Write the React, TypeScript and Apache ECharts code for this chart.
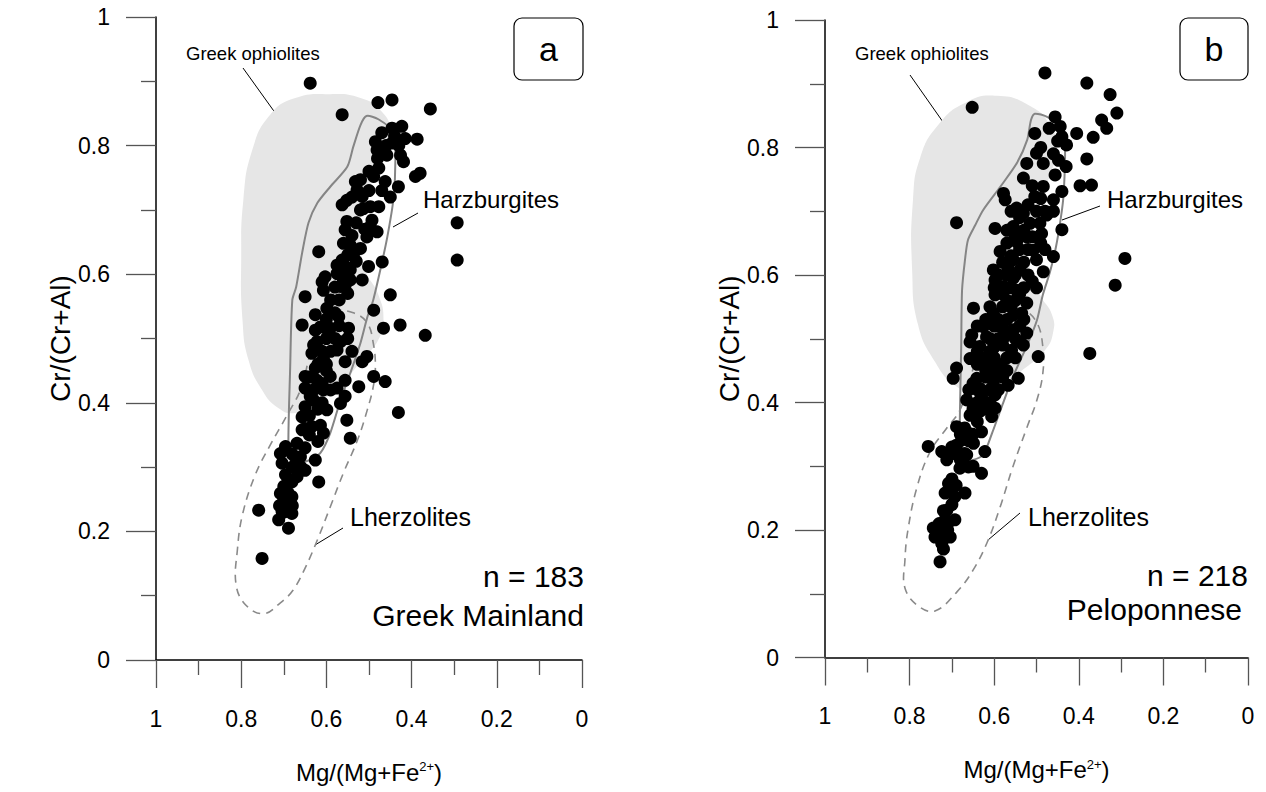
import { useEffect, useRef } from "react";
import * as echarts from "echarts";

// ---------- DATA ----------
// Panel a: Greek Mainland, [Mg/(Mg+Fe2+), Cr/(Cr+Al)]
const mainlandPts: [number, number][] = [
  [0.638,0.897],[0.563,0.848],[0.479,0.867],[0.446,0.871],[0.356,0.857],
  [0.446,0.827],[0.423,0.830],[0.415,0.811],[0.387,0.810],[0.485,0.806],
  [0.446,0.804],[0.481,0.793],[0.458,0.785],[0.426,0.785],[0.419,0.775],
  [0.477,0.765],[0.489,0.752],[0.391,0.752],[0.380,0.757],[0.462,0.744],
  [0.431,0.736],[0.532,0.744],[0.520,0.747],[0.528,0.731],[0.516,0.721],
  [0.552,0.715],[0.563,0.708],[0.513,0.702],[0.497,0.705],[0.477,0.705],
  [0.493,0.684],[0.552,0.682],[0.497,0.674],[0.481,0.666],[0.556,0.669],
  [0.505,0.658],[0.560,0.648],[0.544,0.645],[0.618,0.635],[0.536,0.632],
  [0.563,0.622],[0.469,0.619],[0.575,0.614],[0.556,0.612],[0.544,0.607],
  [0.501,0.612],[0.575,0.601],[0.560,0.591],[0.544,0.591],[0.516,0.591],
  [0.603,0.596],[0.610,0.588],[0.567,0.581],[0.556,0.583],[0.607,0.575],
  [0.650,0.565],[0.450,0.568],[0.599,0.547],[0.626,0.537],[0.571,0.534],
  [0.489,0.544],[0.657,0.521],[0.614,0.518],[0.591,0.516],[0.548,0.516],
  [0.466,0.516],[0.427,0.521],[0.293,0.680],[0.293,0.622],
  [0.368,0.505],[0.462,0.433],[0.431,0.385],
  [0.626,0.513],[0.595,0.511],[0.622,0.495],[0.567,0.495],[0.634,0.477],
  [0.575,0.482],[0.607,0.469],[0.556,0.464],[0.505,0.472],[0.516,0.464],
  [0.626,0.454],[0.650,0.441],[0.622,0.435],[0.591,0.441],[0.556,0.435],
  [0.489,0.441],[0.524,0.425],[0.650,0.423],[0.638,0.410],[0.607,0.420],
  [0.575,0.423],[0.556,0.410],[0.630,0.404],[0.650,0.394],[0.599,0.389],
  [0.567,0.399],[0.552,0.373],[0.544,0.345],[0.657,0.378],[0.614,0.365],
  [0.634,0.363],[0.607,0.353],[0.657,0.358],[0.669,0.337],[0.696,0.332],
  [0.708,0.321],[0.661,0.316],[0.626,0.311],[0.704,0.306],[0.673,0.301],
  [0.650,0.295],[0.696,0.288],[0.669,0.285],[0.681,0.277],[0.618,0.277],
  [0.700,0.270],[0.708,0.259],[0.681,0.254],[0.692,0.244],[0.704,0.231],
  [0.681,0.228],[0.759,0.233],[0.712,0.218],[0.689,0.205],[0.751,0.158],
  [0.47,0.82],[0.44,0.815],[0.43,0.80],[0.46,0.80],
  [0.50,0.76],[0.47,0.73],[0.45,0.72],[0.50,0.73],[0.52,0.70],[0.54,0.72],
  [0.53,0.68],[0.51,0.67],[0.54,0.66],[0.52,0.64],[0.55,0.63],[0.53,0.62],
  [0.58,0.58],[0.57,0.56],[0.55,0.57],[0.59,0.56],[0.58,0.54],[0.60,0.53],
  [0.60,0.50],[0.58,0.50],[0.61,0.48],[0.59,0.48],[0.63,0.49],[0.60,0.46],
  [0.62,0.46],[0.60,0.45],[0.64,0.44],[0.61,0.43],[0.63,0.42],[0.59,0.42],[0.62,0.39],[0.64,0.38],[0.61,0.40],
  [0.64,0.35],[0.62,0.34],[0.65,0.33],[0.68,0.32],[0.66,0.30],[0.68,0.30],[0.67,0.31],[0.65,0.36],[0.69,0.28],
  [0.70,0.25],[0.69,0.26],[0.70,0.23],[0.68,0.24],[0.71,0.24],
  [0.55,0.50],[0.57,0.52],[0.54,0.48],[0.48,0.78],[0.56,0.60],
];

// Panel b: Peloponnese
const peloponnesePts: [number, number][] = [
  [0.652,0.863],
  [0.480,0.917],[0.381,0.901],[0.326,0.883],[0.310,0.854],[0.346,0.843],
  [0.334,0.830],[0.456,0.848],[0.444,0.833],[0.440,0.817],[0.429,0.804],
  [0.405,0.822],[0.366,0.816],[0.381,0.782],[0.504,0.822],[0.500,0.791],
  [0.523,0.775],[0.484,0.775],[0.448,0.780],[0.456,0.757],[0.531,0.752],
  [0.397,0.740],[0.370,0.741],[0.484,0.739],[0.440,0.731],[0.460,0.718],
  [0.504,0.723],[0.578,0.728],[0.574,0.718],[0.547,0.705],[0.476,0.694],
  [0.531,0.697],[0.440,0.671],[0.492,0.681],[0.515,0.681],[0.555,0.676],
  [0.598,0.673],[0.689,0.682],[0.488,0.665],[0.523,0.660],[0.570,0.650],
  [0.547,0.652],[0.586,0.637],[0.508,0.639],[0.460,0.629],[0.500,0.624],
  [0.555,0.624],[0.567,0.611],[0.602,0.608],[0.539,0.608],[0.484,0.605],
  [0.598,0.592],[0.555,0.595],[0.578,0.582],[0.598,0.569],[0.547,0.576],
  [0.523,0.556],[0.314,0.584],[0.291,0.626],[0.649,0.548],
  [0.374,0.477],[0.496,0.472],
  [0.602,0.540],[0.555,0.537],[0.535,0.540],[0.626,0.519],[0.586,0.519],
  [0.555,0.514],[0.523,0.509],[0.653,0.506],[0.618,0.503],[0.578,0.501],
  [0.539,0.495],[0.657,0.495],[0.634,0.488],[0.602,0.485],[0.559,0.482],
  [0.531,0.490],[0.657,0.469],[0.626,0.464],[0.582,0.454],[0.689,0.454],
  [0.697,0.438],[0.641,0.438],[0.602,0.433],[0.567,0.427],[0.543,0.438],
  [0.634,0.422],[0.598,0.412],[0.665,0.404],[0.638,0.401],[0.598,0.391],
  [0.657,0.380],[0.634,0.386],[0.606,0.378],[0.689,0.362],[0.661,0.352],
  [0.630,0.354],[0.677,0.341],[0.649,0.336],[0.756,0.331],[0.724,0.323],
  [0.689,0.333],[0.712,0.310],[0.689,0.320],[0.665,0.318],[0.622,0.323],
  [0.681,0.297],[0.661,0.299],[0.630,0.289],[0.708,0.273],[0.716,0.258],
  [0.693,0.252],[0.669,0.258],[0.712,0.231],[0.716,0.216],[0.693,0.216],
  [0.744,0.203],[0.724,0.205],[0.704,0.189],[0.740,0.189],[0.724,0.179],
  [0.728,0.150],
  [0.47,0.83],[0.45,0.81],[0.49,0.80],[0.46,0.79],[0.43,0.77],
  [0.51,0.74],[0.49,0.72],[0.52,0.71],[0.48,0.70],[0.50,0.70],[0.54,0.69],[0.46,0.70],[0.56,0.70],
  [0.51,0.66],[0.53,0.67],[0.49,0.65],[0.55,0.66],[0.57,0.67],[0.52,0.64],[0.54,0.64],[0.48,0.64],[0.56,0.63],[0.53,0.62],[0.58,0.62],
  [0.52,0.60],[0.55,0.60],[0.57,0.60],[0.59,0.60],[0.51,0.59],[0.53,0.58],[0.56,0.58],[0.58,0.57],[0.60,0.58],[0.54,0.57],[0.57,0.56],[0.55,0.56],[0.50,0.58],
  [0.58,0.55],[0.61,0.55],[0.56,0.55],[0.53,0.53],[0.57,0.53],[0.59,0.53],[0.62,0.53],[0.54,0.52],[0.60,0.52],[0.64,0.52],[0.57,0.51],[0.59,0.50],[0.61,0.50],[0.55,0.50],
  [0.58,0.49],[0.61,0.48],[0.64,0.48],[0.57,0.47],[0.60,0.47],[0.62,0.47],[0.55,0.47],[0.59,0.46],[0.61,0.46],[0.64,0.46],[0.57,0.45],[0.60,0.45],[0.62,0.45],
  [0.62,0.44],[0.58,0.44],[0.65,0.43],[0.61,0.42],[0.64,0.42],[0.59,0.42],[0.63,0.41],[0.61,0.40],[0.65,0.39],[0.62,0.39],[0.66,0.42],
  [0.64,0.37],[0.67,0.36],[0.65,0.35],[0.68,0.35],[0.66,0.34],[0.70,0.33],[0.67,0.32],[0.70,0.32],[0.68,0.31],[0.65,0.30],
  [0.70,0.28],[0.69,0.27],[0.71,0.26],[0.70,0.24],[0.72,0.23],[0.71,0.21],[0.73,0.19],[0.71,0.20],[0.72,0.17],[0.73,0.21],
];

// Field outlines (data coordinates)
const ophioliteFieldA: [number, number][] = [
  [0.591,0.880],[0.520,0.874],[0.473,0.855],[0.450,0.824],[0.462,0.785],
  [0.492,0.747],[0.516,0.700],[0.520,0.653],[0.509,0.607],[0.478,0.568],
  [0.466,0.529],[0.478,0.498],[0.516,0.467],[0.567,0.428],[0.626,0.397],
  [0.673,0.384],[0.713,0.392],[0.751,0.420],[0.783,0.467],[0.797,0.529],
  [0.800,0.622],[0.795,0.715],[0.774,0.793],[0.732,0.848],[0.673,0.874],
];
const harzFieldA: [number, number][] = [
  [0.506,0.846],[0.478,0.841],[0.443,0.821],[0.438,0.778],[0.443,0.715],
  [0.457,0.658],[0.471,0.614],[0.490,0.560],[0.504,0.533],[0.520,0.493],
  [0.544,0.446],[0.567,0.404],[0.591,0.353],[0.614,0.322],[0.638,0.311],
  [0.678,0.306],[0.689,0.319],[0.685,0.456],[0.680,0.560],[0.671,0.580],
  [0.657,0.633],[0.642,0.680],[0.621,0.711],[0.591,0.736],[0.551,0.767],
  [0.537,0.798],[0.520,0.832],
];
const lherzFieldA: [number, number][] = [
  [0.584,0.543],[0.537,0.540],[0.504,0.524],[0.490,0.493],[0.485,0.456],
  [0.490,0.425],[0.504,0.389],[0.527,0.342],[0.560,0.291],[0.591,0.238],
  [0.621,0.187],[0.650,0.143],[0.678,0.109],[0.708,0.089],[0.748,0.072],
  [0.790,0.086],[0.812,0.117],[0.809,0.171],[0.797,0.226],[0.767,0.288],
  [0.732,0.334],[0.692,0.381],[0.661,0.420],[0.642,0.467],[0.628,0.509],
  [0.610,0.532],
];
const ophioliteFieldB: [number, number][] = [
  [0.593,0.881],[0.515,0.865],[0.468,0.835],[0.452,0.799],[0.468,0.757],
  [0.496,0.710],[0.515,0.655],[0.515,0.608],[0.492,0.569],[0.463,0.537],
  [0.461,0.509],[0.480,0.482],[0.527,0.454],[0.586,0.427],[0.645,0.416],
  [0.693,0.427],[0.740,0.464],[0.780,0.522],[0.794,0.608],[0.792,0.718],
  [0.775,0.784],[0.733,0.835],[0.669,0.870],
];
const harzFieldB: [number, number][] = [
  [0.504,0.853],[0.475,0.848],[0.440,0.831],[0.433,0.804],[0.433,0.769],
  [0.437,0.718],[0.444,0.683],[0.454,0.644],[0.468,0.605],[0.485,0.569],
  [0.499,0.529],[0.522,0.490],[0.556,0.440],[0.579,0.399],[0.605,0.352],
  [0.626,0.318],[0.650,0.310],[0.674,0.310],[0.681,0.325],[0.681,0.384],
  [0.678,0.487],[0.676,0.576],[0.669,0.624],[0.662,0.655],[0.645,0.678],
  [0.626,0.702],[0.586,0.738],[0.546,0.776],[0.522,0.812],[0.513,0.843],
];
const lherzFieldB: [number, number][] = [
  [0.579,0.544],[0.532,0.545],[0.499,0.525],[0.485,0.487],[0.485,0.446],
  [0.499,0.404],[0.522,0.362],[0.556,0.299],[0.586,0.236],[0.617,0.180],
  [0.650,0.137],[0.688,0.103],[0.740,0.073],[0.780,0.081],[0.811,0.109],
  [0.811,0.153],[0.804,0.200],[0.783,0.266],[0.752,0.322],[0.712,0.360],
  [0.681,0.388],[0.652,0.448],[0.634,0.495],[0.610,0.528],
];

const panelLetters = ["a", "b"];
const regionNames = ["Greek Mainland", "Peloponnese"];
const counts = ["n = 183", "n = 218"];

const FONT = '"Liberation Sans", Arial, Helvetica, sans-serif';

function fieldSeries(idx: number, pts: [number, number][], style: any, smooth: number) {
  return {
    type: "custom",
    xAxisIndex: idx,
    yAxisIndex: idx,
    data: pts,
    clip: false,
    silent: true,
    renderItem: (params: any, api: any) => {
      if (params.dataIndex !== 0) return null;
      const points = pts.map((p) => api.coord(p));
      return { type: "polygon", shape: { points, smooth }, style };
    },
  };
}

function txt(x: number, y: number, text: string, size: number, align = "left") {
  return {
    type: "text",
    x,
    y,
    silent: true,
    style: {
      text,
      font: `${size}px ${FONT}`,
      fontSize: size,
      fontFamily: FONT,
      fill: "#000",
      textAlign: align,
      textVerticalAlign: "middle",
      align,
      verticalAlign: "middle",
    },
  };
}
function seg(x1: number, y1: number, x2: number, y2: number) {
  return { type: "line", silent: true, shape: { x1, y1, x2, y2 }, style: { stroke: "#000", lineWidth: 1 } };
}
function box(x: number, y: number, w: number, h: number) {
  return { type: "rect", silent: true, shape: { x, y, width: w, height: h, r: 8 }, style: { fill: "#fff", stroke: "#000", lineWidth: 1.2 } };
}

function xAxis(idx: number) {
  return {
    gridIndex: idx,
    type: "value",
    min: 0,
    max: 1,
    interval: 0.2,
    inverse: true,
    axisLine: { show: true, onZero: false, lineStyle: { color: "#000", width: 1.5 } },
    axisTick: { show: true, length: 28, lineStyle: { color: "#555", width: 1.3 } },
    minorTick: { show: true, splitNumber: 2, length: 15, lineStyle: { color: "#555", width: 1.3 } },
    splitLine: { show: false },
    axisLabel: { margin: 47, fontSize: 23, color: "#000", fontFamily: FONT },
    name: "Mg/(Mg+Fe{sup|2+})",
    nameLocation: "middle",
    nameGap: 100,
    nameTextStyle: {
      fontSize: 24,
      color: "#000",
      fontFamily: FONT,
      rich: { sup: { fontSize: 13, fontFamily: FONT, color: "#000", verticalAlign: "top" } },
    },
  };
}
function yAxis(idx: number) {
  return {
    gridIndex: idx,
    type: "value",
    min: 0,
    max: 1,
    interval: 0.2,
    axisLine: { show: true, onZero: false, lineStyle: { color: "#000", width: 1.5 } },
    axisTick: { show: true, length: 30, lineStyle: { color: "#555", width: 1.3 } },
    minorTick: { show: true, splitNumber: 2, length: 15, lineStyle: { color: "#555", width: 1.3 } },
    splitLine: { show: false },
    axisLabel: { margin: 46, fontSize: 23, color: "#000", fontFamily: FONT },
    name: "Cr/(Cr+Al)",
    nameLocation: "middle",
    nameGap: 82,
    nameRotate: 90,
    nameTextStyle: { fontSize: 28, color: "#000", fontFamily: FONT },
  };
}

const fieldFill = { fill: "#e6e6e6", stroke: "none" };
const harzStyle = { fill: "none", stroke: "#858585", lineWidth: 2 };
const lherzStyle = { fill: "none", stroke: "#8a8a8a", lineWidth: 1.6, lineDash: [8, 6] };

export default function App() {
  const ref = useRef<HTMLDivElement>(null);
  useEffect(() => {
    if (!ref.current) return;
    const chart = echarts.init(ref.current, null, { renderer: "svg" });
    const option: any = {
      animation: false,
      backgroundColor: "#fff",
      grid: [
        { left: 156, top: 17, width: 426, height: 643 },
        { left: 825, top: 20, width: 423, height: 637.5 },
      ],
      xAxis: [xAxis(0), xAxis(1)],
      yAxis: [yAxis(0), yAxis(1)],
      series: [
        fieldSeries(0, ophioliteFieldA, fieldFill, 0.5),
        fieldSeries(1, ophioliteFieldB, fieldFill, 0.5),
        { type: "scatter", xAxisIndex: 0, yAxisIndex: 0, data: mainlandPts, symbolSize: 13, itemStyle: { color: "#000", opacity: 1 }, silent: true },
        { type: "scatter", xAxisIndex: 1, yAxisIndex: 1, data: peloponnesePts, symbolSize: 13, itemStyle: { color: "#000", opacity: 1 }, silent: true },
        fieldSeries(0, harzFieldA, harzStyle, 0.25),
        fieldSeries(0, lherzFieldA, lherzStyle, 0.4),
        fieldSeries(1, harzFieldB, harzStyle, 0.25),
        fieldSeries(1, lherzFieldB, lherzStyle, 0.4),
      ],
      graphic: [
        txt(186, 53, "Greek ophiolites", 18.5),
        seg(243, 68, 276, 114),
        txt(423, 199, "Harzburgites", 24),
        seg(393, 227, 418, 213),
        txt(350, 517, "Lherzolites", 25),
        seg(315, 545, 343, 528),
        txt(584, 576, counts[0], 30, "right"),
        txt(584, 615, regionNames[0], 30, "right"),
        box(514, 18, 69, 62),
        txt(548.5, 49, panelLetters[0], 34, "center"),

        txt(855, 53, "Greek ophiolites", 18.5),
        seg(910, 75, 943, 122),
        txt(1107, 199, "Harzburgites", 24),
        seg(1062, 220, 1100, 206),
        txt(1028, 517, "Lherzolites", 25),
        seg(988, 540, 1020, 513),
        txt(1248, 575, counts[1], 30, "right"),
        txt(1242, 609, regionNames[1], 30, "right"),
        box(1180, 18, 68, 62),
        txt(1214, 49, panelLetters[1], 34, "center"),
      ],
    };
    chart.setOption(option);
    return () => chart.dispose();
  }, []);
  return (
    <div
      ref={ref}
      style={{ position: "fixed", left: 0, top: 0, width: 1266, height: 792, background: "#fff" }}
    />
  );
}
